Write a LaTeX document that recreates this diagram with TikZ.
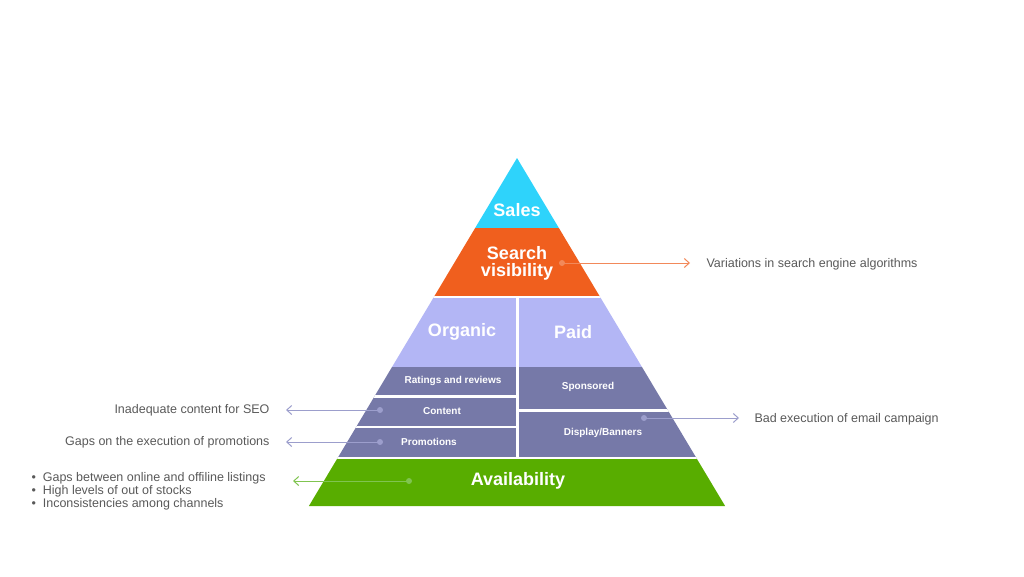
\documentclass[tikz,border=0pt]{standalone}
\usepackage{fontspec}
\setmainfont{Liberation Sans}
\usetikzlibrary{arrows.meta}
\definecolor{cy}{HTML}{2ED3FB}
\definecolor{og}{HTML}{F05F1E}
\definecolor{lav}{HTML}{B3B6F5}
\definecolor{sl}{HTML}{7679A8}
\definecolor{gr}{HTML}{58AD00}
\definecolor{pl}{HTML}{9C9ECC}
\definecolor{ol}{HTML}{F2895A}
\definecolor{gl}{HTML}{80C450}
\definecolor{tx}{HTML}{595959}
\begin{document}
\begin{tikzpicture}[x=1pt,y=-1pt,
  big/.style={text=white,font=\bfseries\fontsize{18}{20}\selectfont,align=center},
  small/.style={text=white,font=\bfseries\fontsize{10}{12}\selectfont},
  note/.style={text=tx,font=\fontsize{12.5}{15}\selectfont},
  dot/.style={circle,inner sep=0pt,minimum size=6pt},
  conn/.style={line width=1pt,-{Straight Barb[length=5pt,width=9pt]}}]
\useasboundingbox (0,0) rectangle (1024,576);
\begin{scope}
\clip (517,158) -- (725.1,506) -- (308.9,506) -- cycle;
\fill[cy] (300,150) rectangle (730,228);
\fill[og] (300,228) rectangle (730,297);
\fill[lav] (300,297) rectangle (730,367);
\fill[sl] (300,367) rectangle (730,458);
\fill[gr] (300,458) rectangle (730,510);
\draw[white,line width=2.5pt] (300,297) -- (730,297);
\draw[white,line width=2.5pt] (300,458) -- (730,458);
\draw[white,line width=2.5pt] (517.5,297) -- (517.5,458);
\draw[white,line width=2.5pt] (300,396.3) -- (517,396.3);
\draw[white,line width=2.5pt] (300,427) -- (517,427);
\draw[white,line width=2.5pt] (517,410.5) -- (730,410.5);
\end{scope}
\node[big] (sales) at (517,210) {Sales};
\node[big] (sv) at (517,263) {Search\\[-3pt]visibility};
\node[big] (org) at (462,332) {Organic};
\node[big] (paid) at (573,332) {Paid};
\node[small] (rr) at (453,381) {Ratings and reviews};
\node[small] (ct) at (442,411) {Content};
\node[small] (pr) at (429,442) {Promotions};
\node[small] (sp) at (588,387) {Sponsored};
\node[small] (db) at (603,433) {Display/Banners};
\node[big] (av) at (518,481) {Availability};
\node[dot,fill=ol] (d1) at (562,263) {};
\node[dot,fill=pl] (d2) at (380,410) {};
\node[dot,fill=pl] (d3) at (380,442) {};
\node[dot,fill=gl] (d4) at (409,481) {};
\node[dot,fill=pl] (d5) at (644,418) {};
\coordinate (e1) at (690,263);
\coordinate (e2) at (286,410);
\coordinate (e3) at (286,442);
\coordinate (e4) at (293,481);
\coordinate (e5) at (739,418);
\draw[conn,ol] (d1.center) -- (e1);
\draw[conn,pl] (d2.center) -- (e2);
\draw[conn,pl] (d3.center) -- (e3);
\draw[conn,gl] (d4.center) -- (e4);
\draw[conn,pl] (d5.center) -- (e5);
\node[note,anchor=west] (t1) at (703,264) {Variations in search engine algorithms};
\node[note,anchor=west] (t5) at (751,419) {Bad execution of email campaign};
\node[note,anchor=east] (t2) at (273,410) {Inadequate content for SEO};
\node[note,anchor=east] (t3) at (273,442) {Gaps on the execution of promotions};
\node[note,anchor=north west,align=left] (t4) at (28,469) {\textbullet\ \ Gaps between online and offiline listings\\[-2pt]\textbullet\ \ High levels of out of stocks\\[-2pt]\textbullet\ \ Inconsistencies among channels};
\end{tikzpicture}
\end{document}
